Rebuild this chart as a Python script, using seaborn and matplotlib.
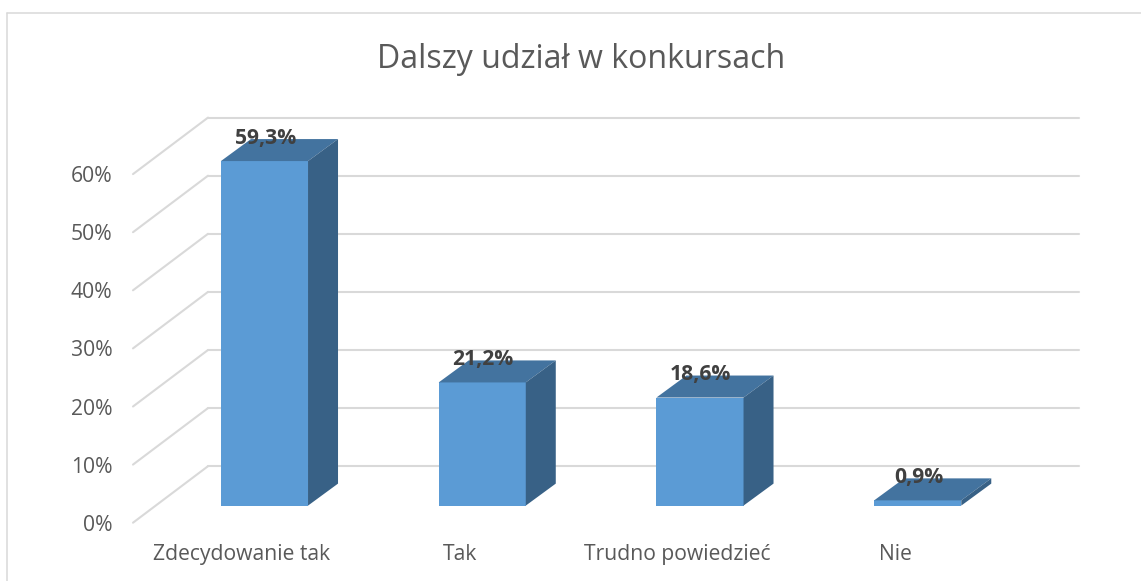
"""
Dalszy udzial w konkursach - Excel style 3D column chart.

seaborn draws the front faces of the columns, the top and side faces
are added from the bar patches, shifted by a fixed depth in pixels.
"""

import matplotlib.pyplot as plt
import seaborn as sns
from matplotlib.lines import Line2D
from matplotlib.patches import Polygon
from matplotlib.transforms import Affine2D, IdentityTransform

categories = ["Zdecydowanie tak", "Tak", "Trudno powiedzieć", "Nie"]
values = [59.3, 21.2, 18.6, 0.9]
value_labels = ["59,3%", "21,2%", "18,6%", "0,9%"]
y_ticks = [0, 10, 20, 30, 40, 50, 60]
y_tick_labels = ["0%", "10%", "20%", "30%", "40%", "50%", "60%"]
title = "Dalszy udział w konkursach"

W, H = 1141, 581
GRID = "#d9d9d9"
TEXT = "#595959"
FRONT = "#5b9bd5"
TOP = "#43739f"
SIDE = "#386186"

sns.set_style("white")
plt.rcParams["font.family"] = ["Open Sans", "DejaVu Sans"]

fig = plt.figure(figsize=(W / 100, H / 100), dpi=100)


def axes_rect(left, right, bottom, top):
    """Axes position from picture pixels (y counted from the top)."""
    return [left / W, 1 - bottom / H, (right - left) / W, (bottom - top) / H]


# Front edge of the floor: carries the tick labels.
wall_bottom = 522.7
px_per_unit = 5.81
y_max = 70
ax_wall = fig.add_axes(axes_rect(133, 1004, wall_bottom, wall_bottom - y_max * px_per_unit))
ax_wall.set_xlim(-0.5, 3.5)
ax_wall.set_ylim(0, y_max)
ax_wall.patch.set_visible(False)
sns.despine(ax=ax_wall, left=True, bottom=True)
ax_wall.set_xticks(range(len(categories)), categories)
ax_wall.set_yticks(y_ticks, y_tick_labels)
ax_wall.tick_params(axis="x", length=0, pad=15.5, labelsize=15.2, labelcolor=TEXT)
ax_wall.tick_params(axis="y", length=0, pad=15, labelsize=15.2, labelcolor=TEXT)

# Gridlines: diagonal on the side wall, horizontal on the back wall.
DEPTH_X, DEPTH_Y = 75, 56.5
side_wall = Affine2D.from_values(DEPTH_X, DEPTH_Y, 0, px_per_unit, 133, H - wall_bottom)
back_wall = Affine2D.from_values(1, 0, 0, px_per_unit, 0, H - wall_bottom + DEPTH_Y)
for v in y_ticks:
    ax_wall.plot([0, 1], [v, v], color=GRID, lw=1.5, transform=side_wall, clip_on=False)
    ax_wall.plot([133 + DEPTH_X, 1079], [v, v], color=GRID, lw=1.5, transform=back_wall, clip_on=False)

# Columns stand in the middle of the floor, so their axes is shifted from the wall.
bar_dx, bar_dy = 22.6, 17.1
ax_bar = fig.add_axes(axes_rect(133 + bar_dx, 1004 + bar_dx, wall_bottom - bar_dy,
                                wall_bottom - bar_dy - y_max * px_per_unit))
sns.barplot(x=categories, y=values, color=FRONT, saturation=1, width=0.4,
            edgecolor=FRONT, linewidth=0, ax=ax_bar)
ax_bar.set_xlim(-0.5, 3.5)
ax_bar.set_ylim(0, y_max)
ax_bar.axis("off")

COL_DX, COL_DY = 30, 22
for bar, label in zip(list(ax_bar.patches), value_labels):
    x0, x1 = bar.get_x(), bar.get_x() + bar.get_width()
    h = bar.get_height()
    (ax0, ay0), (ax1, ay1) = ax_bar.transData.transform([(x0, 0), (x1, h)])
    top_face = [(ax0, ay1), (ax1, ay1), (ax1 + COL_DX, ay1 + COL_DY), (ax0 + COL_DX, ay1 + COL_DY)]
    side_face = [(ax1, ay0), (ax1, ay1), (ax1 + COL_DX, ay1 + COL_DY), (ax1 + COL_DX, ay0 + COL_DY)]
    ax_bar.add_patch(Polygon(top_face, color=TOP, lw=0, transform=IdentityTransform(), clip_on=False))
    ax_bar.add_patch(Polygon(side_face, color=SIDE, lw=0, transform=IdentityTransform(), clip_on=False))
    ax_bar.annotate(label, ((x0 + x1) / 2, h), xytext=(0.5, 16.3), textcoords="offset points",
                    ha="center", va="center", fontsize=15.2, fontweight="bold", color="#404040",
                    zorder=5, annotation_clip=False)

fig.text(581 / W, 1 - 59 / H, title, ha="center", va="center", fontsize=23.1, color=TEXT)

# Chart frame, only the top and left edges are inside the crop.
fig.add_artist(Line2D([7 / W, 7 / W], [0, 1 - 13 / H], color=GRID, lw=1.1))
fig.add_artist(Line2D([7 / W, 1], [1 - 13 / H, 1 - 13 / H], color=GRID, lw=1.1))

fig.savefig("out.png", dpi=100)
